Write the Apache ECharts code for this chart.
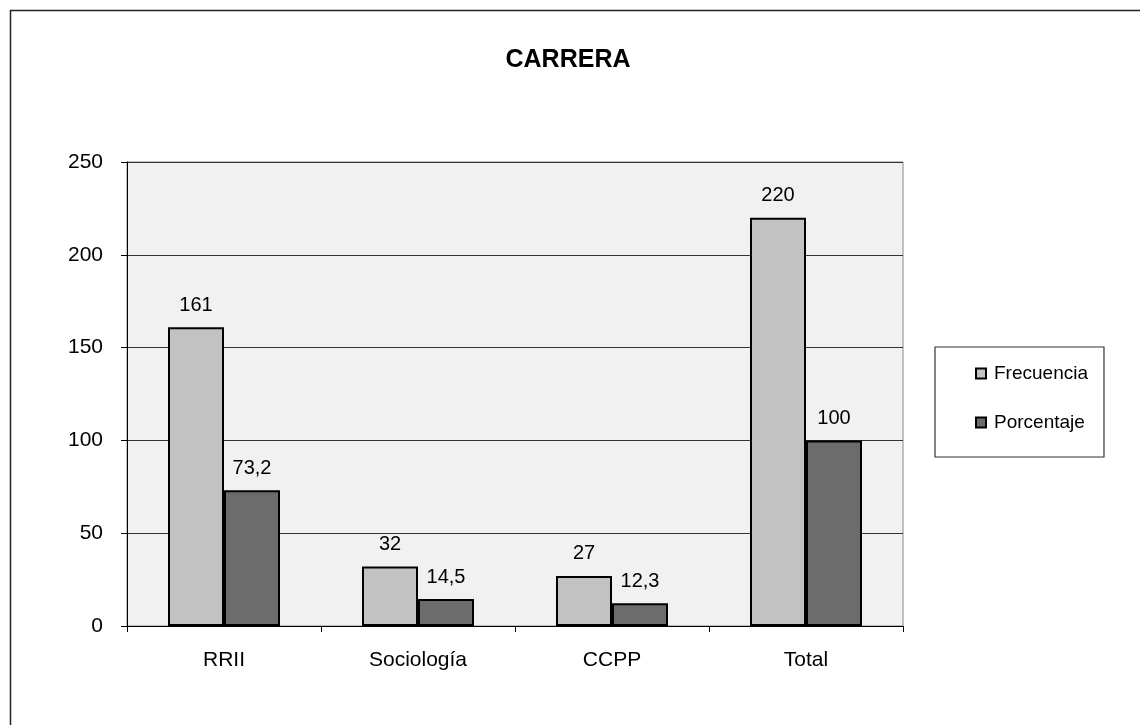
<!DOCTYPE html>
<html><head><meta charset="utf-8">
<script src="https://cdn.jsdelivr.net/npm/echarts@6/dist/echarts.min.js"></script>
<style>html,body{margin:0;padding:0;background:#fff}#c{width:1140px;height:725px}</style>
</head><body><div id="c"></div>
<script>
const categories = ['RRII', 'Sociología', 'CCPP', 'Total'];
const frecuencia = [161, 32, 27, 220];
const porcentaje = [73.2, 14.5, 12.3, 100];
const seriesNames = ['Frecuencia', 'Porcentaje'];
const yTicks = { min: 0, max: 250, interval: 50 };

const chart = echarts.init(document.getElementById('c'), null, { renderer: 'canvas' });
const fmt = p => String(p.value).replace('.', ',');
const font = 'Liberation Sans, Arial, sans-serif';
chart.setOption({
  animation: false,
  title: { text: 'CARRERA', left: 563, top: 43, textAlign: 'center',
    textStyle: { fontFamily: font, fontWeight: 'bold', fontSize: 25, color: '#000' } },
  graphic: [{ type: 'rect', shape: { x: 10.5, y: 10.5, width: 1200, height: 800 },
    style: { fill: 'none', stroke: '#222', lineWidth: 1.5 }, z: -10 }],
  legend: {
    orient: 'vertical', left: 935, top: 347,
    padding: [17, 16, 25, 40], itemGap: 30, itemWidth: 10, itemHeight: 10, icon: 'rect',
    backgroundColor: '#fff', borderColor: '#333', borderWidth: 1.2,
    textStyle: { fontFamily: font, fontSize: 19, color: '#000', padding: [0, 0, 0, 3] },
    data: seriesNames
  },
  grid: { left: 127, top: 162, width: 776, height: 464, show: true,
    backgroundColor: '#f1f1f1', borderColor: '#888', borderWidth: 1 },
  xAxis: { type: 'category', data: categories,
    axisLine: { lineStyle: { color: '#000', width: 1 } },
    axisTick: { show: true, length: 6, lineStyle: { color: '#000' } },
    axisLabel: { fontFamily: font, fontSize: 21, color: '#000', margin: 24 } },
  yAxis: { type: 'value', min: yTicks.min, max: yTicks.max, interval: yTicks.interval,
    axisLine: { show: true, lineStyle: { color: '#000' } },
    axisTick: { show: true, length: 6, lineStyle: { color: '#000' } },
    splitLine: { lineStyle: { color: '#333', width: 1 } },
    axisLabel: { fontFamily: font, fontSize: 21, color: '#000', margin: 24 } },
  series: [
    { name: seriesNames[0], type: 'bar', data: frecuencia, barWidth: 56, barGap: '0%',
      itemStyle: { color: '#c2c2c2', borderColor: '#000', borderWidth: 2 },
      label: { show: true, position: 'top', distance: 12, formatter: fmt,
        fontFamily: font, fontSize: 20, color: '#000' } },
    { name: seriesNames[1], type: 'bar', data: porcentaje, barWidth: 56,
      itemStyle: { color: '#6c6c6c', borderColor: '#000', borderWidth: 2 },
      label: { show: true, position: 'top', distance: 12, formatter: fmt,
        fontFamily: font, fontSize: 20, color: '#000' } }
  ]
});
</script></body></html>
